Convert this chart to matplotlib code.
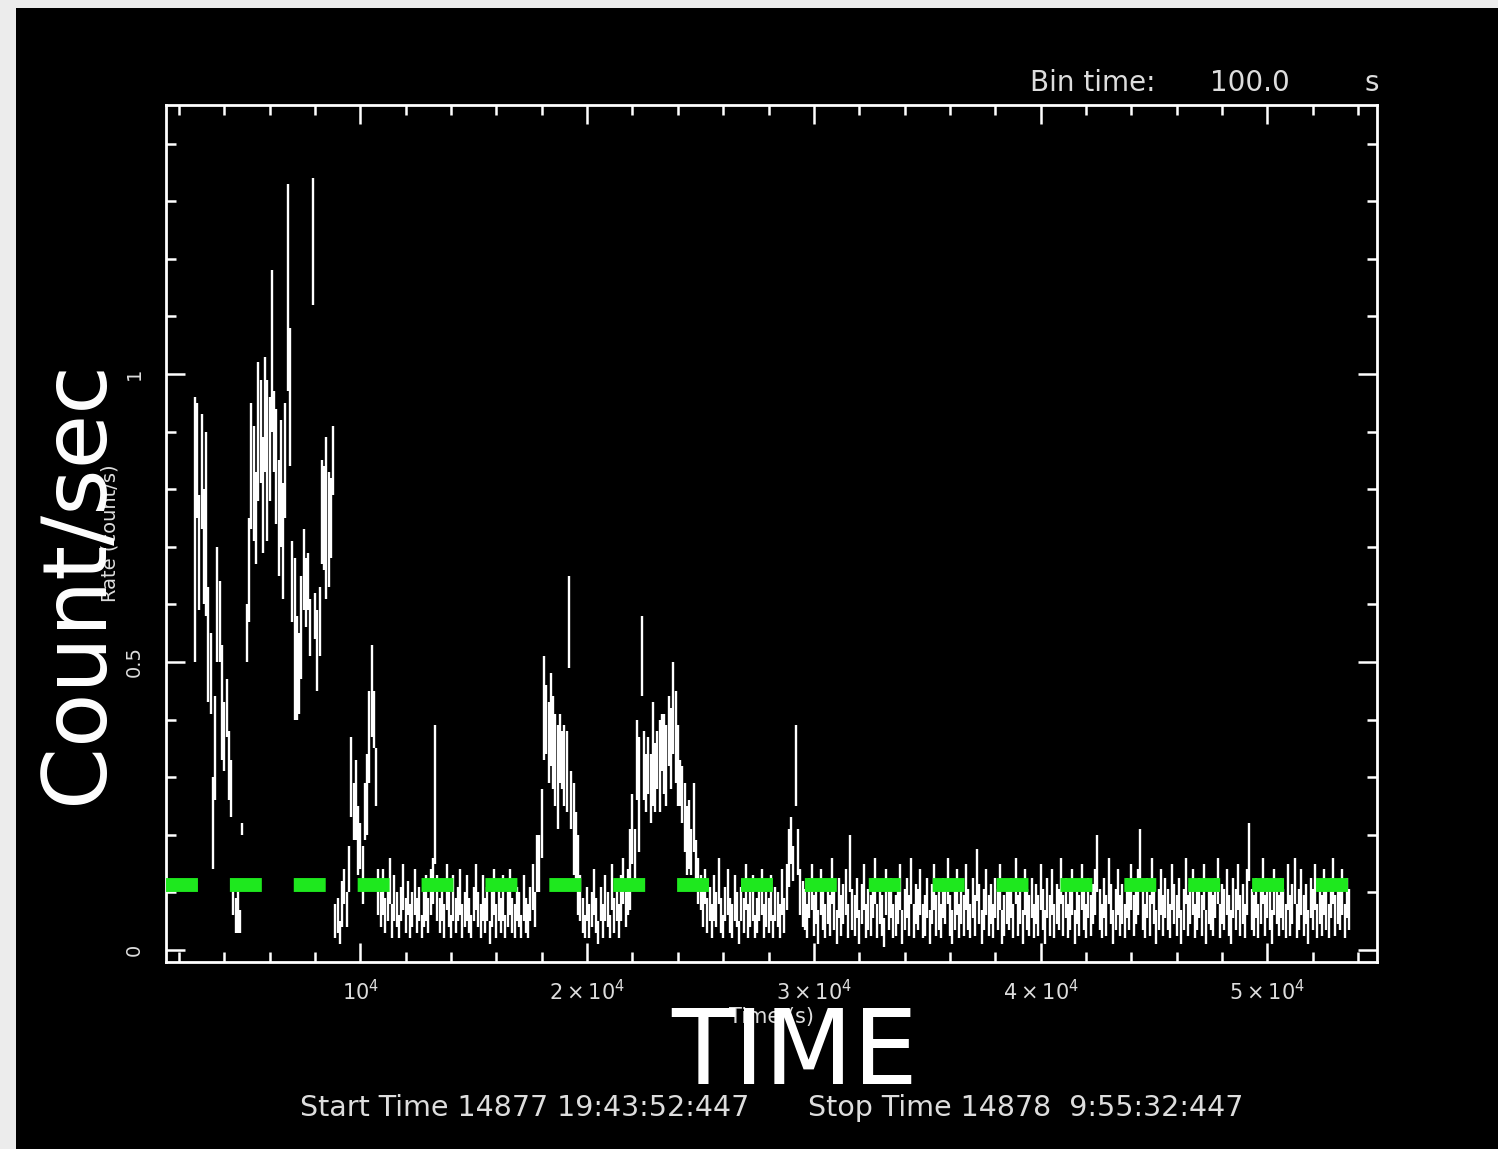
import numpy as np
import matplotlib
matplotlib.use("Agg")
import matplotlib.pyplot as plt
from matplotlib.patches import Rectangle

# ---- light curve: 100 s bins, rates and 1-sigma errors in count/s ----
bin_time = 100.0
t_first = 2700.0          # centre of bin 0 (s)

# first flare episode
start_a = 0
rate_a = [0.73, 0.85, 0.69, 0.83, 0.70, 0.74, 0.53, 0.48, 0.22, 0.35, 0.60,
          0.57, 0.43, 0.37, 0.42, 0.32, 0.28, 0.09, 0.06, 0.07, 0.05, 0.21]
err_a = [0.23, 0.10, 0.10, 0.10, 0.10, 0.16, 0.10, 0.07, 0.08, 0.09, 0.10,
         0.07, 0.10, 0.06, 0.05, 0.06, 0.05, 0.03, 0.03, 0.04, 0.02, 0.01]

# main flare
start_b = 23
rate_b = [0.55, 0.66, 0.84, 0.81, 0.75, 0.90, 0.90, 0.79, 0.93, 0.85, 0.87, 1.04, 0.90,
          0.84, 0.75, 0.81, 0.71, 0.85, 1.15, 0.96, 0.64, 0.54, 0.49, 0.48, 0.56, 0.66,
          0.62, 0.64, 0.56, 1.23, 0.58, 0.52, 0.57, 0.76, 0.75, 0.75, 0.73, 0.75, 0.85]
err_b = [0.05, 0.09, 0.11, 0.10, 0.08, 0.12, 0.09, 0.10, 0.10, 0.14, 0.09, 0.14, 0.07,
         0.10, 0.10, 0.11, 0.10, 0.10, 0.18, 0.12, 0.07, 0.14, 0.09, 0.07, 0.09, 0.07,
         0.06, 0.05, 0.05, 0.11, 0.04, 0.07, 0.06, 0.09, 0.09, 0.14, 0.10, 0.07, 0.06]

# small flare near 1e4 s
start_c = 62
rate_c = [0.05, 0.06, 0.03, 0.08, 0.11, 0.07, 0.14, 0.30, 0.24, 0.26,
          0.19, 0.18, 0.13, 0.24, 0.27, 0.37, 0.45, 0.40, 0.30, 0.10]
err_c = [0.03, 0.03, 0.02, 0.04, 0.03, 0.03, 0.04, 0.07, 0.05, 0.07,
         0.06, 0.04, 0.05, 0.05, 0.07, 0.08, 0.08, 0.05, 0.05, 0.04]

# quiescent stretch
start_d = 82
rate_d = [0.07, 0.10, 0.06, 0.08, 0.12, 0.05, 0.09, 0.07, 0.04, 0.08,
          0.11, 0.06, 0.09, 0.05, 0.07, 0.10, 0.06, 0.08, 0.04, 0.07,
          0.09, 0.06, 0.10, 0.12, 0.27, 0.09, 0.06, 0.08, 0.05, 0.11,
          0.07, 0.04, 0.09, 0.06, 0.08, 0.10, 0.05, 0.07, 0.09, 0.06,
          0.04, 0.08, 0.11, 0.07, 0.05, 0.09, 0.06, 0.08, 0.03, 0.07,
          0.10, 0.05, 0.08, 0.06, 0.09, 0.04, 0.07, 0.10, 0.06, 0.05,
          0.08, 0.07, 0.04, 0.09, 0.06, 0.05, 0.08, 0.11, 0.07, 0.15]
err_d = [0.03, 0.04, 0.03, 0.03, 0.04, 0.03, 0.04, 0.03, 0.02, 0.03,
         0.04, 0.03, 0.03, 0.03, 0.03, 0.04, 0.03, 0.03, 0.02, 0.03,
         0.04, 0.03, 0.04, 0.04, 0.12, 0.04, 0.03, 0.03, 0.03, 0.04,
         0.03, 0.02, 0.04, 0.03, 0.03, 0.04, 0.03, 0.03, 0.04, 0.03,
         0.02, 0.03, 0.04, 0.03, 0.03, 0.04, 0.03, 0.03, 0.02, 0.03,
         0.04, 0.03, 0.03, 0.03, 0.04, 0.02, 0.03, 0.04, 0.03, 0.03,
         0.03, 0.03, 0.02, 0.04, 0.03, 0.03, 0.03, 0.04, 0.03, 0.05]

# flare near 2e4 s
start_e = 152
rate_e = [0.15, 0.22, 0.42, 0.40, 0.36, 0.40, 0.36, 0.33, 0.30,
          0.35, 0.33, 0.32, 0.31, 0.57, 0.26, 0.21, 0.18, 0.13]
err_e = [0.05, 0.06, 0.09, 0.06, 0.07, 0.08, 0.08, 0.08, 0.09,
         0.06, 0.05, 0.07, 0.07, 0.08, 0.05, 0.08, 0.06, 0.07]

start_f = 170
rate_f = [0.09, 0.06, 0.04, 0.08, 0.05, 0.07, 0.10, 0.06, 0.03, 0.08, 0.05,
          0.09, 0.07, 0.04, 0.11, 0.06, 0.08, 0.05, 0.09, 0.12, 0.07, 0.10]
err_f = [0.04, 0.03, 0.02, 0.03, 0.03, 0.03, 0.04, 0.03, 0.02, 0.03, 0.03,
         0.04, 0.03, 0.02, 0.04, 0.03, 0.03, 0.03, 0.04, 0.04, 0.03, 0.04]

# flare near 2.5e4 s
start_g = 192
rate_g = [0.14, 0.21, 0.16, 0.33, 0.27, 0.51, 0.32, 0.29, 0.32, 0.28, 0.34, 0.30,
          0.33, 0.32, 0.36, 0.34, 0.32, 0.38, 0.35, 0.42, 0.37, 0.32, 0.29, 0.27,
          0.23, 0.19, 0.20, 0.17, 0.23, 0.15, 0.12, 0.10, 0.08, 0.11, 0.06, 0.08]
err_g = [0.07, 0.06, 0.05, 0.07, 0.10, 0.07, 0.06, 0.05, 0.05, 0.06, 0.09, 0.06,
         0.05, 0.08, 0.05, 0.07, 0.07, 0.06, 0.07, 0.08, 0.08, 0.07, 0.04, 0.05,
         0.06, 0.06, 0.06, 0.04, 0.06, 0.04, 0.04, 0.03, 0.04, 0.03, 0.03, 0.03]

start_h = 228
rate_h = [0.05, 0.09, 0.07, 0.12, 0.06, 0.04, 0.08, 0.10, 0.06, 0.05,
          0.09, 0.07, 0.03, 0.08, 0.06, 0.11, 0.05, 0.07, 0.09, 0.04,
          0.06, 0.08, 0.10, 0.05, 0.07, 0.06, 0.09, 0.04, 0.08, 0.07,
          0.05, 0.10, 0.06, 0.11]
err_h = [0.03, 0.04, 0.03, 0.04, 0.03, 0.02, 0.03, 0.04, 0.03, 0.03,
         0.04, 0.03, 0.02, 0.03, 0.03, 0.04, 0.03, 0.03, 0.04, 0.02,
         0.03, 0.03, 0.04, 0.03, 0.03, 0.03, 0.04, 0.02, 0.03, 0.03,
         0.03, 0.04, 0.03, 0.04]

# short flare near 3e4 s
start_i = 262
rate_i = [0.16, 0.19, 0.15, 0.32, 0.17, 0.10, 0.08]
err_i = [0.05, 0.04, 0.03, 0.07, 0.04, 0.04, 0.04]

# late quiescence
start_j = 269
rate_j = [
    0.07, 0.05, 0.09, 0.11, 0.06, 0.08, 0.04, 0.10, 0.07, 0.05,
    0.08, 0.06, 0.12, 0.07, 0.04, 0.09, 0.06, 0.08, 0.10, 0.05,
    0.15, 0.07, 0.06, 0.09, 0.04, 0.08, 0.11, 0.05, 0.07, 0.06,
    0.09, 0.12, 0.05, 0.08, 0.06, 0.03, 0.10, 0.07, 0.09, 0.05,
    0.06, 0.08, 0.11, 0.04, 0.07, 0.09, 0.06, 0.12, 0.05, 0.08,
    0.07, 0.10, 0.05, 0.06, 0.09, 0.04, 0.08, 0.11, 0.06, 0.07,
    0.05, 0.09, 0.08, 0.12, 0.06, 0.04, 0.07, 0.10, 0.05, 0.08,
    0.06, 0.11, 0.07, 0.05, 0.09, 0.06, 0.13, 0.08, 0.04, 0.07,
    0.10, 0.06, 0.08, 0.05, 0.09, 0.07, 0.11, 0.04, 0.06, 0.08,
    0.07, 0.09, 0.05, 0.12, 0.06, 0.08, 0.04, 0.10, 0.07, 0.06,
    0.09, 0.05, 0.08, 0.06, 0.11, 0.07, 0.04, 0.09, 0.06, 0.10,
    0.05, 0.08, 0.07, 0.12, 0.06, 0.09, 0.05, 0.07, 0.10, 0.04,
    0.08, 0.06, 0.11, 0.07, 0.05, 0.09, 0.06, 0.08, 0.10, 0.15,
    0.07, 0.05, 0.09, 0.06, 0.12, 0.08, 0.04, 0.07, 0.10, 0.06,
    0.08, 0.05, 0.09, 0.07, 0.11, 0.06, 0.08, 0.10, 0.16, 0.07,
    0.05, 0.09, 0.06, 0.12, 0.08, 0.04, 0.07, 0.10, 0.06, 0.09,
    0.07, 0.05, 0.11, 0.08, 0.06, 0.09, 0.04, 0.07, 0.12, 0.06,
    0.08, 0.10, 0.05, 0.07, 0.09, 0.06, 0.11, 0.04, 0.08, 0.07,
    0.06, 0.09, 0.12, 0.05, 0.08, 0.07, 0.10, 0.06, 0.04, 0.09,
    0.07, 0.11, 0.06, 0.08, 0.05, 0.10, 0.17, 0.07, 0.06, 0.09,
    0.05, 0.08, 0.12, 0.06, 0.09, 0.07, 0.04, 0.10, 0.08, 0.06,
    0.09, 0.07, 0.05, 0.11, 0.06, 0.08, 0.12, 0.05, 0.07, 0.10,
    0.06, 0.08, 0.04, 0.09, 0.07, 0.11, 0.05, 0.08, 0.06, 0.10,
    0.07, 0.05, 0.09, 0.12, 0.06, 0.08, 0.07, 0.10, 0.05, 0.09,
    0.07]
err_j = [
    0.035, 0.03, 0.035, 0.04, 0.035, 0.035, 0.03, 0.04, 0.035, 0.03,
    0.035, 0.035, 0.04, 0.035, 0.03, 0.035, 0.035, 0.035, 0.04, 0.03,
    0.05, 0.035, 0.035, 0.035, 0.03, 0.035, 0.04, 0.03, 0.035, 0.035,
    0.035, 0.04, 0.03, 0.035, 0.035, 0.025, 0.04, 0.035, 0.035, 0.03,
    0.035, 0.035, 0.04, 0.03, 0.035, 0.035, 0.035, 0.04, 0.03, 0.035,
    0.035, 0.04, 0.03, 0.035, 0.035, 0.03, 0.035, 0.04, 0.035, 0.035,
    0.03, 0.035, 0.035, 0.04, 0.035, 0.03, 0.035, 0.04, 0.03, 0.035,
    0.035, 0.04, 0.035, 0.03, 0.035, 0.035, 0.045, 0.035, 0.03, 0.035,
    0.04, 0.035, 0.035, 0.03, 0.035, 0.035, 0.04, 0.03, 0.035, 0.035,
    0.035, 0.035, 0.03, 0.04, 0.035, 0.035, 0.03, 0.04, 0.035, 0.035,
    0.035, 0.03, 0.035, 0.035, 0.04, 0.035, 0.03, 0.035, 0.035, 0.04,
    0.03, 0.035, 0.035, 0.04, 0.035, 0.035, 0.03, 0.035, 0.04, 0.03,
    0.035, 0.035, 0.04, 0.035, 0.03, 0.035, 0.035, 0.035, 0.04, 0.05,
    0.035, 0.03, 0.035, 0.035, 0.04, 0.035, 0.03, 0.035, 0.04, 0.035,
    0.035, 0.03, 0.035, 0.035, 0.04, 0.035, 0.035, 0.04, 0.05, 0.035,
    0.03, 0.035, 0.035, 0.04, 0.035, 0.03, 0.035, 0.04, 0.035, 0.035,
    0.035, 0.03, 0.04, 0.035, 0.035, 0.035, 0.03, 0.035, 0.04, 0.035,
    0.035, 0.04, 0.03, 0.035, 0.035, 0.035, 0.04, 0.03, 0.035, 0.035,
    0.035, 0.035, 0.04, 0.03, 0.035, 0.035, 0.04, 0.035, 0.03, 0.035,
    0.035, 0.04, 0.035, 0.035, 0.03, 0.04, 0.05, 0.035, 0.035, 0.035,
    0.03, 0.035, 0.04, 0.035, 0.035, 0.035, 0.03, 0.04, 0.035, 0.035,
    0.035, 0.035, 0.03, 0.04, 0.035, 0.035, 0.04, 0.03, 0.035, 0.04,
    0.035, 0.035, 0.03, 0.035, 0.035, 0.04, 0.03, 0.035, 0.035, 0.04,
    0.035, 0.03, 0.035, 0.04, 0.035, 0.035, 0.035, 0.04, 0.03, 0.035,
    0.035]

segments = [(start_a, rate_a, err_a), (start_b, rate_b, err_b), (start_c, rate_c, err_c),
            (start_d, rate_d, err_d), (start_e, rate_e, err_e), (start_f, rate_f, err_f),
            (start_g, rate_g, err_g), (start_h, rate_h, err_h), (start_i, rate_i, err_i),
            (start_j, rate_j, err_j)]

# threshold level drawn across the light curve (count/s)
threshold = 0.113

# axis annotations
x_ticks = [10000, 20000, 30000, 40000, 50000]
x_tick_labels = [r"$10^4$", r"$2\times10^4$", r"$3\times10^4$", r"$4\times10^4$", r"$5\times10^4$"]
y_ticks = [0.0, 0.5, 1.0]
y_tick_labels = ["0", "0.5", "1"]

W, H = 1498, 1149
fig = plt.figure(figsize=(W / 100, H / 100), dpi=100, facecolor="black")

# light frame along the top and left edges
fig.patches.append(Rectangle((0, 0), 16 / W, 1, transform=fig.transFigure,
                             facecolor="#ececec", edgecolor="none", zorder=0))
fig.patches.append(Rectangle((0, 1 - 8 / H), 1, 8 / H, transform=fig.transFigure,
                             facecolor="#ececec", edgecolor="none", zorder=0))

ax = fig.add_axes([166 / W, 1 - 962 / H, (1377 - 166) / W, (962 - 105) / H], facecolor="black")

for start, r_seg, e_seg in segments:
    r = np.array(r_seg, dtype=float)
    e = np.array(e_seg, dtype=float)
    t = t_first + bin_time * (start + np.arange(len(r)))
    ax.vlines(t, r - e, r + e, colors="white", linewidth=1.7)

ax.axhline(threshold, xmin=0, xmax=(1351 - 166) / (1377 - 166), color="#1ee81e",
           linewidth=10, dashes=(2.3, 2.3), zorder=5)

ax.set_xlim(1431, 54830)
ax.set_ylim(-0.021, 1.467)

for s in ax.spines.values():
    s.set_color("white")
    s.set_linewidth(2)

ax.set_xticks(x_ticks)
ax.set_xticklabels(x_tick_labels)
ax.set_xticks(np.arange(2000, 54001, 2000), minor=True)
ax.set_yticks(y_ticks)
ax.set_yticklabels(y_tick_labels, rotation=90, va="center")
ax.set_yticks(np.arange(0, 1.41, 0.1), minor=True)
ax.tick_params(which="both", direction="in", colors="white", top=True, right=True,
               labelsize=15, width=1.8)
ax.tick_params(which="major", length=14, pad=12)
ax.tick_params(axis="y", which="major", pad=16, labelsize=14)
ax.tick_params(which="minor", length=7)
for lab in ax.get_xticklabels() + ax.get_yticklabels():
    lab.set_color("#dddddd")

ax.set_xlabel("Time (s)", color="#dddddd", fontsize=15, labelpad=2)
ax.set_ylabel("Rate (count/s)", color="#dddddd", fontsize=14, labelpad=4)

fig.text(1030 / W, 1 - 83 / H, "Bin time:", color="#dddddd", fontsize=20, va="center", ha="left")
fig.text(1290 / W, 1 - 83 / H, "100.0", color="#dddddd", fontsize=20, va="center", ha="right")
fig.text(1372 / W, 1 - 83 / H, "s", color="#dddddd", fontsize=20, va="center", ha="center")
fig.text(300 / W, 1 - 1108 / H, "Start Time 14877 19:43:52:447",
         color="#dddddd", fontsize=20.5, va="center", ha="left")
fig.text(808 / W, 1 - 1108 / H, "Stop Time 14878  9:55:32:447",
         color="#dddddd", fontsize=20.5, va="center", ha="left")

# large overlay captions
fig.text(795 / W, 1 - 1056 / H, "TIME", color="white", fontsize=74, va="center", ha="center")
fig.text(78 / W, 1 - 582 / H, "Count/sec", color="white", fontsize=64, va="center",
         ha="center", rotation=90)

fig.savefig("out.png", dpi=100, facecolor="black")
